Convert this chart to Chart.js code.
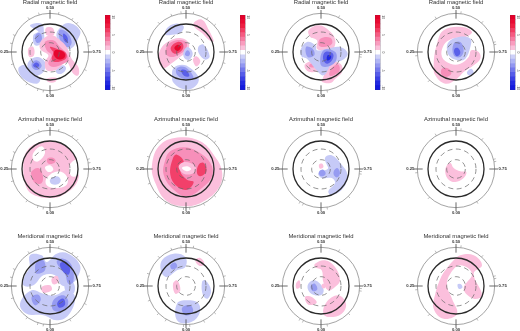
<!DOCTYPE html>
<html><head><meta charset="utf-8">
<script src="https://cdn.jsdelivr.net/npm/chart.js@4"></script>
<style>
html,body{margin:0;padding:0;background:#fff;width:520px;height:331px;overflow:hidden}
canvas{position:absolute;filter:blur(0.4px)}
</style></head><body>
<script>
// Contours: [level, [x,y, x,y, ...]] in map units around the pole. Later contours sit on top.
const radial1=[
[-1,[25,-67,55,-87,90,-65,82,-35,62,-10,35,-20,20,-45]],
[-2,[28,-65,50,-60,65,-30,55,-15,35,-25]],
[-3,[40,-55,52,-45,52,-28,42,-35]],
[-1,[-60,-80,-25,-85,-18,-55,-20,-30,-45,-20,-50,-50,-35,-62]],
[-2,[-40,-55,-28,-55,-25,-35,-38,-27,-45,-40]],
[-1,[-95,50,-75,40,-30,80,-40,95,-80,80]],
[-1,[-65,30,-40,15,-15,30,-20,60,-45,70,-65,50]],
[-2,[-55,35,-40,25,-25,40,-35,53,-50,50]],
[-3,[-48,35,-38,32,-32,40,-40,47,-50,42]],
[-1,[20,50,40,40,48,50,35,65,20,63]],
[1,[-25,-35,5,-50,30,-35,50,-15,65,20,85,45,85,70,70,65,50,30,30,45,15,55,-10,55,-15,30,-5,10,-30,-10]],
[2,[-15,-30,10,-35,30,-15,50,5,55,25,40,35,10,45,-5,35,5,10,-10,-5]],
[3,[0,-15,20,-10,45,0,50,15,40,25,15,30,5,20,10,0]],
[4,[15,-5,30,-5,45,5,42,18,25,22,12,10]],
[1,[-12,-72,8,-72,12,-52,-10,-50]],
[1,[-65,-10,-50,-15,-48,10,-62,15]],
[1,[-10,80,20,78,15,90,-5,90]]];
const radial2=[
[1,[-77,-7,-52,-32,-17,-42,8,-27,3,-2,-22,18,-42,33,-67,48,-82,28]],
[2,[-55,-20,-30,-35,0,-30,0,-10,-25,10,-45,15,-60,5]],
[3,[-45,-15,-25,-30,-10,-25,-10,-8,-28,5,-42,0]],
[4,[-35,-12,-25,-22,-15,-15,-25,-3]],
[1,[23,-87,48,-97,68,-67,83,-32,68,-37,48,-57,28,-72]],
[1,[21,23,31,13,43,28,31,43]],
[-1,[-57,-72,-32,-85,-7,-77,-17,-57,-42,-52,-62,-52]],
[-1,[-7,-2,5,-15,20,3,10,23,-5,18]],
[-2,[-2,2,5,-5,12,3,8,12,-2,10]],
[-1,[38,-17,53,-22,71,13,58,23,38,3]],
[-1,[-37,48,-12,38,13,48,38,78,28,103,-2,113,-37,93,-42,68]],
[-2,[-27,48,-2,46,23,78,3,83,-27,68]],
[-3,[-15,55,0,55,10,72,-5,72]]];
const radial3=[
[1,[-37,-65,-7,-80,23,-65,43,-35,33,-5,8,-5,-12,-10,-12,-35,-32,-45]],
[2,[-2,-40,28,-43,33,-25,8,-15,-7,-20]],
[1,[-47,35,-12,25,-10,55,-32,60,-47,50]],
[2,[-35,38,-18,33,-20,45,-33,45]],
[1,[3,85,28,35,58,35,63,60,43,80,28,93,3,90]],
[2,[31,50,50,37,56,55,38,70,25,70]],
[-1,[-62,-5,-42,-30,-17,-20,-12,-5,18,-10,58,-15,80,5,63,25,33,35,8,70,-17,50,-42,20,-57,15]],
[-2,[-45,-15,-25,-10,-20,10,-40,15]],
[-2,[8,-5,43,0,43,30,13,45,-2,35]],
[-3,[13,0,36,5,33,25,18,35,6,20]],
[-4,[20,10,30,12,28,22,18,25]]];
const radial4=[
[1,[-37,-65,18,-75,48,-60,28,-45,-12,-40,-37,-20,-42,15,-17,35,13,35,38,15,46,-5,68,0,73,20,53,40,23,60,3,80,-32,95,-62,70,-67,35,-57,-25]],
[2,[-42,50,-22,50,-14,65,-32,75,-44,67]],
[-1,[-22,-30,8,-45,43,-40,43,-15,28,20,8,25,-17,15,-27,-5]],
[-2,[-7,-25,13,-30,23,-5,13,15,-7,10]],
[-3,[-4,-10,6,-12,13,3,3,13,-5,3]],
[-1,[33,60,46,50,53,65,38,70]]];
const azimuthal1=[
[1,[-70,-53,-20,-83,30,-78,65,-53,85,-8,80,42,40,77,0,87,-50,77,-70,57,-80,7]],
[0,[-50,-48,-25,-68,-15,-48,-35,-23,-50,-28]],
[0,[60,-13,85,-28,90,12,65,22]],
[0,[-15,-5,0,-11,10,2,-5,9]],
[0,[-10,27,25,7,50,22,50,47,15,57,-10,49]],
[-1,[0,32,20,22,32,32,25,45,5,45]],
[2,[-8,-31,10,-33,17,-23,5,-15,-7,-18]],
[2,[-55,7,-35,-3,-22,17,-25,42,-45,42,-55,22]]];
const azimuthal2=[
[1,[-77,-73,-17,-95,43,-83,83,-43,108,7,98,57,53,97,3,112,-57,97,-92,42,-102,-13]],
[2,[-47,-53,-7,-65,33,-53,73,-18,78,22,48,57,3,82,-37,62,-67,17,-62,-28]],
[3,[-39,-33,-27,-43,-7,-23,-17,7,3,32,23,39,3,62,-27,52,-47,17]],
[3,[38,-13,53,-18,61,7,43,22,33,12]],
[1,[-22,-8,-2,-21,28,-8,23,12,-7,14]],
[0,[-12,-3,3,-8,15,0,3,7]]];
const azimuthal3=[
[-1,[12,-33,32,-41,62,-13,79,17,67,57,32,79,22,67,42,42,32,27,2,27,-8,12,22,-3]],
[-2,[39,5,49,-3,57,12,49,25,39,19]],
[-2,[-5,7,7,2,14,14,4,22,-5,17]],
[1,[-6,-13,4,-16,7,-5,-3,-1]]];
const azimuthal4=[
[1,[-29,-8,-17,-18,-7,-3,13,7,31,9,23,27,-2,39,-22,32,-32,12]]];
const meridional1=[
[-1,[-60,-92,-25,-92,-10,-72,20,-97,55,-97,90,-62,80,-22,55,-2,35,-2,15,-32,-20,-32,-50,-2,-80,-2,-75,-32,-60,-57]],
[-1,[-90,53,-55,13,-20,23,15,28,50,13,75,33,55,88,20,103,-20,88,-70,83]],
[-1,[45,-10,70,-10,72,20,50,20]],
[-2,[20,-72,40,-82,65,-62,70,-12,55,-7,45,-37]],
[-3,[30,-67,48,-72,60,-52,55,-34,40,-42]],
[-2,[-40,-72,-20,-77,-15,-47,-40,-37,-45,-52]],
[-2,[-55,33,-35,26,-28,43,-45,58]],
[-2,[10,43,40,28,55,48,40,73,10,73]],
[-3,[22,50,40,38,45,56,28,65]],
[1,[-25,3,0,-2,5,13,-20,20]],
[1,[5,-22,22,-30,25,-12,10,-5]]];
const meridional2=[
[-1,[-72,-77,-37,-97,-2,-87,-2,-57,-27,-47,-57,-27,-74,-42]],
[-2,[-47,-62,-32,-70,-27,-57,-42,-50]],
[-1,[48,-12,58,-17,75,13,65,38,51,28]],
[-1,[-27,53,3,43,38,53,38,88,8,111,-27,103]],
[-2,[-12,66,13,58,21,78,-2,88]],
[1,[28,-77,43,-84,55,-67,41,-60]],
[1,[-39,-7,-27,-17,-17,13,-32,23]]];
const meridional3=[
[1,[-18,-67,12,-77,42,-57,57,-17,42,3,22,13,7,-12,2,-47,-18,-57]],
[1,[7,83,17,48,52,28,75,53,62,83,27,93]],
[1,[-75,-7,-65,-17,-63,3,-73,8]],
[1,[-48,33,-28,33,-13,50,-38,56]],
[-1,[-38,-7,-18,-17,7,8,2,26,-23,26,-38,13]],
[-2,[-28,-4,-18,-7,-11,10,-23,16,-31,6]],
[1,[2,-4,12,-7,12,6,4,6]]];
const meridional4=[
[1,[13,-92,53,-92,78,-62,53,-37,78,28,53,38,23,8,48,-37,13,-62,-17,-37,-27,-2,-12,38,3,83,-37,98,-67,68,-62,23,-47,-22,-32,-47,-7,-77]],
[-1,[5,-5,15,-5,19,5,8,8]]];

const titles=["Radial magnetic field","Azimuthal magnetic field","Meridional magnetic field"];
const panels=[
 [radial1,radial2,radial3,radial4],
 [azimuthal1,azimuthal2,azimuthal3,azimuthal4],
 [meridional1,meridional2,meridional3,meridional4]];
const phaseLabels=["0.00","0.25","0.50","0.75"];
const phaseMarks1=[0.027,0.05,0.10,0.20,0.285,0.32,0.41,0.455,0.535,0.595,0.62,0.71,0.725,0.825,0.915];
const phaseMarks2=[0.01,0.985,0.085,0.125,0.19,0.30,0.38,0.44,0.48,0.53,0.59,0.63,0.71,0.795,0.87,0.925];
const phaseMarks3=[0.575,0.76,0.77,0.875,0.975,0.075,0.09];
const phaseMarks4=[0.415,0.52,0.615,0.71,0.72,0.91,0.12,0.235];
const phaseMarks=[phaseMarks1,phaseMarks2,phaseMarks3,phaseMarks4];
const ringOuter=116, ringSurface=84, ringDashed=[60,28];
const barLevels=[8,7,6,5,4,3,2,1,0,-1,-2,-3,-4,-5,-6,-7,-8];
const barColors=['#e4002a','#e80a32','#ee1e42','#f23c62','#f55c82','#f77ca2','#f99cbe','#fbc0da','#ffffff','#cdd0f8','#b0b5f5','#9297f1','#7479ed','#565ce9','#3a40e5','#2129e1','#1219dc'];
const barTickIdx=[0,4,8,12,16];
const barTickText=["10","5","0","-5","-10"];
const levelColor={'4':'#e6062e','3':'#f2406a','2':'#f78fba','1':'#fbbfdc','0':'#ffffff','-1':'#c6caf7','-2':'#969bf1','-3':'#5a5fe9','-4':'#2028e0'};

const colX=[50,185.7,321,456], rowY=[52,169,285.7], barX=[104.7,240,375,510];
const W=130,H=110;
const lineCol='#2a2a2a', textCol='#333';

// Overlap the ends of each closed contour so the spline has no corner where it closes.
function toPoints(flat){
  const o=[];
  for(let i=0;i<flat.length;i+=2)o.push({x:flat[i],y:flat[i+1]});
  return [o[o.length-1],...o,o[0],o[1]].map(p=>({x:p.x,y:p.y}));
}

const ringPlugin={id:'rings',afterDatasetsDraw(ch,a,opts){
  const c=ch.ctx,xs=ch.scales.x,ys=ch.scales.y;
  const px=v=>xs.getPixelForValue(v),py=v=>ys.getPixelForValue(v);
  const u=px(1)-px(0);
  const cx=px(0),cy=py(0);
  const circle=(r,w,col,dash)=>{c.save();c.beginPath();c.arc(cx,cy,r*u,0,Math.PI*2);c.lineWidth=w;c.strokeStyle=col;c.setLineDash(dash||[]);c.stroke();c.restore();};
  ringDashed.forEach(r=>circle(r,0.7,'#666',[5,3.5]));
  circle(ringSurface,1.3,lineCol);
  circle(ringOuter,0.6,'#666');
  c.save();c.strokeStyle='#444';c.lineWidth=0.8;
  [[0,1],[-1,0],[0,-1],[1,0]].forEach(([dx,dy])=>{c.beginPath();c.moveTo(px(dx*100),py(dy*100));c.lineTo(px(dx*126),py(dy*126));c.stroke();});
  c.strokeStyle='#777';c.lineWidth=0.5;
  opts.marks.forEach(ph=>{const t=ph*2*Math.PI,sx=-Math.sin(t),sy=Math.cos(t);c.beginPath();c.moveTo(px(sx*ringOuter),py(sy*ringOuter));c.lineTo(px(sx*(ringOuter+7)),py(sy*(ringOuter+7)));c.stroke();});
  c.fillStyle=textCol;c.textAlign='center';c.textBaseline='middle';
  c.font='bold 4.2px "Liberation Sans"';
  c.fillText(phaseLabels[0],px(0),py(132));
  c.fillText(phaseLabels[1],px(-137),py(0));
  c.fillText(phaseLabels[2],px(0),py(-132));
  c.fillText(phaseLabels[3],px(140),py(0));
  c.font='5.9px "Liberation Sans"';c.fillStyle='#333';
  c.fillText(opts.title,px(0),py(-150));
  c.restore();
}};

const barPlugin={id:'barTicks',afterDatasetsDraw(ch){
  const c=ch.ctx,ys=ch.scales.y,a=ch.chartArea;
  c.save();c.strokeStyle='rgba(60,60,80,0.55)';c.lineWidth=0.4;c.strokeRect(a.left,a.top,a.right-a.left,a.bottom-a.top);
  c.fillStyle='#555';c.font='3.4px "Liberation Sans"';c.textAlign='center';c.textBaseline='middle';
  barTickIdx.forEach((idx,i)=>{c.save();c.translate(a.right+3,ys.getPixelForValue(idx));c.rotate(Math.PI/2);c.fillText(barTickText[i],0,0);c.restore();});
  c.restore();
}};

function addCanvas(l,t,w,h){const k=document.createElement('canvas');k.width=w;k.height=h;k.style.left=l+'px';k.style.top=t+'px';k.style.width=w+'px';k.style.height=h+'px';document.body.appendChild(k);return k;}

panels.forEach((row,r)=>row.forEach((contours,col)=>{
  const n=contours.length;
  new Chart(addCanvas(colX[col]-W/2,rowY[r]-H/2,W,H),{
    type:'scatter',
    data:{datasets:contours.map(([lv,flat],i)=>({
      data:toPoints(flat),showLine:true,fill:'shape',tension:0.4,
      backgroundColor:levelColor[lv],borderWidth:0,pointRadius:0,order:n-i
    }))},
    options:{responsive:false,animation:false,events:[],devicePixelRatio:1,
      layout:{padding:0},
      scales:{x:{type:'linear',min:-195,max:195,display:false},y:{type:'linear',min:-165,max:165,reverse:true,display:false}},
      plugins:{legend:{display:false},tooltip:{enabled:false},rings:{marks:phaseMarks[col],title:titles[r]}}},
    plugins:[ringPlugin]
  });
}));

barX.forEach(x=>{
  new Chart(addCanvas(x,14.7,22,75),{
    type:'bar',
    data:{labels:barLevels,datasets:[{data:barLevels.map(()=>1),backgroundColor:barColors,borderWidth:0,barPercentage:1,categoryPercentage:1}]},
    options:{indexAxis:'y',responsive:false,animation:false,events:[],devicePixelRatio:1,
      layout:{padding:{right:16.7}},
      scales:{x:{min:0,max:1,display:false},y:{type:'category',display:false}},
      plugins:{legend:{display:false},tooltip:{enabled:false}}},
    plugins:[barPlugin]
  });
});
</script>
</body></html>
